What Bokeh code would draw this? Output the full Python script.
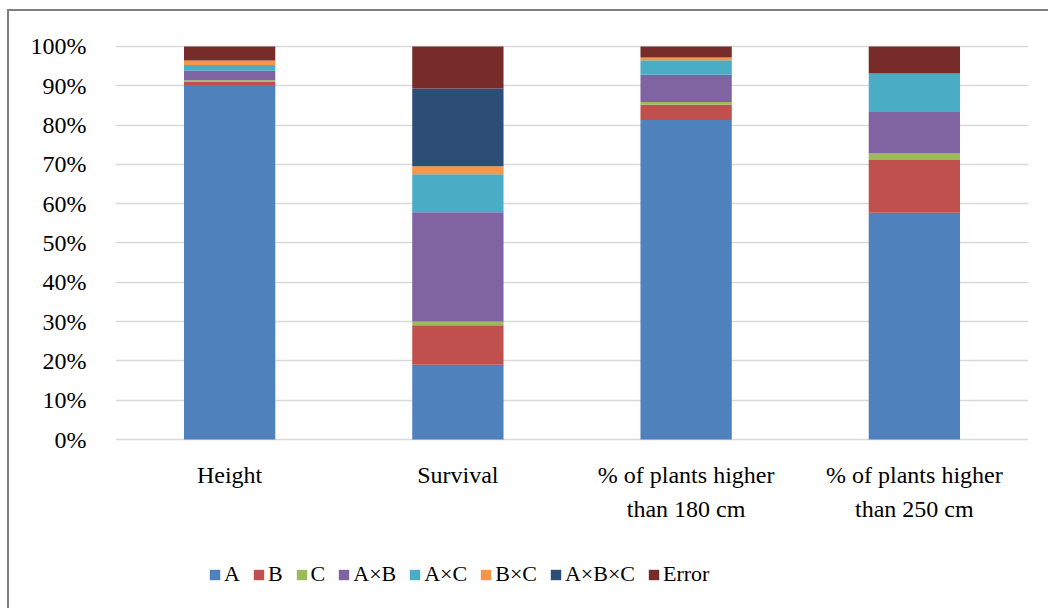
from bokeh.plotting import figure
from bokeh.models import Range1d, FixedTicker, FactorRange, ColumnDataSource
from bokeh.core.properties import value
from bokeh.embed import file_html
from bokeh.resources import INLINE

categories = ["Height", "Survival", "% of plants higher\nthan 180 cm", "% of plants higher\nthan 250 cm"]
series_names = ["A", "B", "C", "A×B", "A×C", "B×C", "A×B×C", "Error"]
A = [90.2, 19.0, 81.3, 57.7]
B = [0.8, 10.1, 3.9, 13.4]
C = [0.4, 0.9, 0.7, 1.7]
AxB = [2.4, 27.8, 6.9, 10.5]
AxC = [1.5, 9.7, 3.7, 9.8]
BxC = [1.1, 2.0, 0.7, 0.0]
AxBxC = [0.0, 19.8, 0.0, 0.0]
Error = [3.6, 10.7, 2.8, 6.9]
y_ticks = [0, 10, 20, 30, 40, 50, 60, 70, 80, 90, 100]
colors = ["#4F81BD", "#C0504D", "#9BBB59", "#8064A2", "#4BACC6", "#F79646", "#2C4D75", "#772C2A"]

keys = ["A", "B", "C", "AxB", "AxC", "BxC", "AxBxC", "Error"]
data = dict(cat=categories, A=A, B=B, C=C, AxB=AxB, AxC=AxC, BxC=BxC, AxBxC=AxBxC, Error=Error)

FONT = "Liberation Serif"

p = figure(width=1041, height=599, x_range=FactorRange(*categories, range_padding=0),
           y_range=Range1d(-43.5, 100.5), output_backend="svg", toolbar_location=None,
           min_border_left=106, min_border_right=22, min_border_top=33, min_border_bottom=0,
           styles={"border-left": "2px solid #7f7f7f", "border-top": "2px solid #7f7f7f",
                   "margin-left": "7px", "margin-top": "9px"})

p.vbar_stack(keys, x="cat", width=0.4, color=colors, line_color=None, source=data,
             legend_label=series_names)

# category labels below the 0% line
p.text(x="cat", y=-5.6, text="cat",
       source=ColumnDataSource(dict(cat=categories)),
       text_font=value(FONT), text_font_size="24px", text_color="#000000",
       text_align="center", text_baseline="top", text_line_height=1.32)

p.outline_line_color = None
p.xaxis.visible = False
p.xgrid.grid_line_color = None
p.ygrid.grid_line_color = "#d9d9d9"
p.ygrid.grid_line_width = 1.5
p.yaxis.ticker = FixedTicker(ticks=y_ticks)
p.yaxis.major_label_overrides = {t: f"{t}%" for t in y_ticks}
p.yaxis.axis_line_color = None
p.yaxis.major_tick_line_color = None
p.yaxis.minor_tick_line_color = None
p.yaxis.major_label_text_font = FONT
p.yaxis.major_label_text_font_size = "24px"
p.yaxis.major_label_text_color = "#000000"
p.yaxis.major_label_standoff = 23

lg = p.legend[0]
lg.orientation = "horizontal"
lg.location = (93, 23)
lg.border_line_color = None
lg.background_fill_alpha = 0
lg.label_text_font = FONT
lg.label_text_font_size = "22px"
lg.label_text_color = "#000000"
lg.glyph_width = 13
lg.glyph_height = 13
lg.label_width = 0
lg.label_standoff = 3
lg.spacing = 12
lg.padding = 0
lg.margin = 0

open("out.html", "w").write(file_html(p, INLINE))
